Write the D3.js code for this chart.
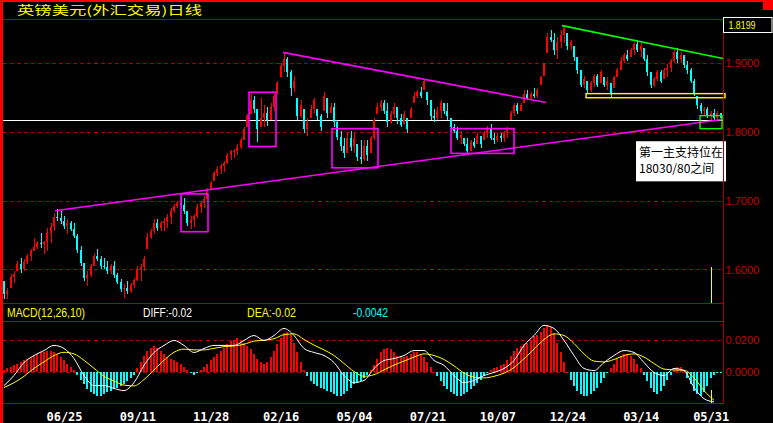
<!DOCTYPE html>
<html><head><meta charset="utf-8">
<script src="https://cdn.jsdelivr.net/npm/d3@7"></script>
<style>html,body{margin:0;padding:0;background:#000;overflow:hidden}</style>
</head><body>
<svg id="c" width="773" height="423"></svg>
<script>
// ---------------- data ----------------
const title = "英镑美元(外汇交易)日线";
const high = [1.583,1.573,1.594,1.598,1.612,1.617,1.615,1.623,1.630,1.646,
1.642,1.653,1.642,1.661,1.668,1.682,1.688,1.685,1.678,1.674,
1.671,1.668,1.652,1.634,1.609,1.598,1.608,1.624,1.630,1.620,
1.617,1.612,1.608,1.612,1.595,1.586,1.579,1.583,1.580,1.588,
1.605,1.608,1.620,1.653,1.659,1.674,1.674,1.671,1.675,1.681,
1.690,1.696,1.700,1.707,1.704,1.685,1.678,1.681,1.696,1.700,
1.707,1.719,1.729,1.744,1.750,1.753,1.758,1.770,1.774,1.776,
1.782,1.791,1.808,1.827,1.856,1.852,1.834,1.850,1.839,1.837,
1.842,1.856,1.875,1.900,1.915,1.909,1.890,1.882,1.849,1.846,
1.834,1.820,1.839,1.850,1.834,1.827,1.858,1.849,1.842,1.842,
1.817,1.802,1.792,1.798,1.801,1.798,1.783,1.788,1.788,1.788,
1.795,1.820,1.842,1.846,1.846,1.842,1.831,1.842,1.836,1.827,
1.831,1.821,1.836,1.858,1.861,1.865,1.878,1.858,1.846,1.834,
1.836,1.846,1.843,1.842,1.821,1.812,1.807,1.802,1.792,1.791,
1.788,1.792,1.798,1.795,1.802,1.809,1.812,1.798,1.798,1.799,
1.802,1.807,1.831,1.843,1.843,1.843,1.861,1.861,1.858,1.864,
1.864,1.882,1.901,1.944,1.948,1.944,1.938,1.948,1.955,1.944,
1.934,1.926,1.909,1.890,1.882,1.875,1.875,1.885,1.885,1.890,
1.880,1.880,1.871,1.882,1.894,1.909,1.915,1.919,1.923,1.931,
1.934,1.929,1.922,1.912,1.887,1.880,1.891,1.890,1.893,1.899,
1.907,1.919,1.922,1.916,1.912,1.904,1.894,1.878,1.853,1.842,
1.837,1.836,1.831,1.834,1.831,1.828];
const low = [1.557,1.557,1.573,1.580,1.598,1.595,1.598,1.608,1.612,1.627,
1.630,1.631,1.623,1.627,1.639,1.656,1.671,1.666,1.659,1.652,
1.656,1.646,1.624,1.605,1.583,1.576,1.589,1.605,1.612,1.601,
1.601,1.594,1.594,1.588,1.579,1.567,1.558,1.564,1.566,1.573,
1.583,1.583,1.598,1.630,1.645,1.652,1.656,1.656,1.656,1.661,
1.666,1.682,1.690,1.690,1.681,1.663,1.659,1.662,1.675,1.682,
1.690,1.703,1.715,1.729,1.736,1.739,1.742,1.754,1.760,1.763,
1.767,1.776,1.789,1.807,1.827,1.828,1.785,1.807,1.807,1.809,
1.817,1.831,1.856,1.880,1.887,1.880,1.853,1.858,1.817,1.821,
1.799,1.795,1.820,1.827,1.817,1.802,1.831,1.821,1.828,1.807,
1.788,1.773,1.763,1.769,1.772,1.770,1.758,1.754,1.758,1.758,
1.770,1.788,1.827,1.831,1.827,1.807,1.812,1.821,1.812,1.807,
1.812,1.799,1.821,1.842,1.850,1.849,1.861,1.839,1.817,1.814,
1.817,1.821,1.827,1.817,1.802,1.798,1.788,1.783,1.780,1.769,
1.773,1.777,1.783,1.777,1.788,1.792,1.788,1.783,1.785,1.785,
1.785,1.792,1.817,1.824,1.827,1.831,1.842,1.846,1.846,1.849,
1.850,1.868,1.882,1.915,1.931,1.912,1.907,1.922,1.929,1.919,
1.919,1.904,1.885,1.865,1.864,1.856,1.858,1.865,1.865,1.871,
1.865,1.861,1.850,1.864,1.880,1.890,1.900,1.904,1.909,1.912,
1.916,1.909,1.903,1.882,1.864,1.865,1.875,1.872,1.878,1.880,
1.887,1.901,1.901,1.900,1.893,1.885,1.871,1.853,1.834,1.827,
1.823,1.821,1.817,1.818,1.817,1.818];
const close = [1.564,1.569,1.589,1.594,1.608,1.601,1.611,1.620,1.627,1.633,
1.639,1.637,1.640,1.653,1.662,1.677,1.675,1.671,1.663,1.668,
1.659,1.649,1.628,1.609,1.588,1.592,1.605,1.620,1.615,1.605,
1.604,1.598,1.605,1.592,1.582,1.572,1.573,1.569,1.577,1.585,
1.601,1.604,1.615,1.647,1.656,1.668,1.661,1.668,1.671,1.677,
1.685,1.693,1.697,1.694,1.685,1.668,1.672,1.678,1.691,1.697,
1.703,1.716,1.726,1.741,1.747,1.750,1.755,1.766,1.772,1.773,
1.779,1.788,1.804,1.823,1.846,1.834,1.805,1.820,1.828,1.817,
1.837,1.852,1.872,1.896,1.907,1.887,1.864,1.875,1.824,1.840,
1.805,1.814,1.834,1.846,1.823,1.808,1.852,1.828,1.837,1.814,
1.793,1.780,1.769,1.791,1.779,1.792,1.764,1.761,1.780,1.766,
1.791,1.817,1.837,1.842,1.831,1.814,1.827,1.837,1.820,1.811,
1.827,1.805,1.833,1.853,1.858,1.853,1.874,1.846,1.824,1.820,
1.831,1.842,1.831,1.823,1.807,1.801,1.792,1.796,1.783,1.773,
1.785,1.780,1.795,1.782,1.799,1.805,1.792,1.788,1.795,1.791,
1.799,1.805,1.828,1.839,1.831,1.840,1.856,1.850,1.855,1.852,
1.861,1.880,1.899,1.939,1.934,1.919,1.931,1.941,1.951,1.926,
1.931,1.909,1.890,1.869,1.878,1.861,1.871,1.881,1.869,1.887,
1.868,1.875,1.855,1.880,1.891,1.904,1.912,1.907,1.920,1.928,
1.919,1.925,1.907,1.887,1.868,1.877,1.888,1.875,1.890,1.894,
1.904,1.916,1.907,1.912,1.897,1.890,1.875,1.856,1.839,1.830,
1.834,1.824,1.828,1.821,1.828,1.8199];
const dateTicks = ["06/25","09/11","11/28","02/16","05/04","07/21","10/07","12/24","03/14","05/31"];
const dateTickIdx = [18,40,62,83,105,127,148,169,191,212];
const priceTicks = [1.6,1.7,1.8,1.9];
const macdTicks = [0.0,0.02];
const lastPrice = 1.8199;
const refLine = 1.8174;
const cursorIdx = 212;
// MACD(12,26,10): DIFF and DEA read every third bar
const diff = [-0.0088,-0.0025,0.0056,0.0100,0.0131,0.0163,0.0144,0.0081,-0.0025,-0.0088,
-0.0088,-0.0106,-0.0119,-0.0069,0.0038,0.0119,0.0163,0.0194,0.0163,0.0119,
0.0144,0.0163,0.0163,0.0163,0.0194,0.0225,0.0194,0.0225,0.0269,0.0225,
0.0144,0.0119,0.0100,0.0056,-0.0025,-0.0069,-0.0056,0.0019,0.0069,0.0081,
0.0100,0.0131,0.0131,0.0069,0.0038,-0.0025,-0.0069,-0.0056,-0.0025,-0.0006,
0.0019,0.0069,0.0163,0.0225,0.0288,0.0269,0.0194,0.0100,0.0019,0.0006,
0.0056,0.0100,0.0131,0.0119,0.0056,-0.0006,-0.0025,0.0019,0.0006,-0.0100,
-0.0170,-0.0190];
const dea = [-0.0100,-0.0070,-0.0030,0.0020,0.0060,0.0100,0.0120,0.0110,0.0070,0.0020,
-0.0030,-0.0060,-0.0085,-0.0090,-0.0050,0.0010,0.0070,0.0120,0.0140,0.0135,
0.0135,0.0145,0.0155,0.0160,0.0170,0.0190,0.0195,0.0205,0.0230,0.0235,
0.0200,0.0165,0.0135,0.0100,0.0050,0.0000,-0.0030,-0.0020,0.0010,0.0040,
0.0065,0.0090,0.0110,0.0100,0.0075,0.0035,-0.0010,-0.0035,-0.0040,-0.0030,
-0.0010,0.0025,0.0080,0.0140,0.0200,0.0235,0.0225,0.0175,0.0110,0.0065,
0.0060,0.0075,0.0100,0.0110,0.0090,0.0050,0.0015,0.0010,0.0008,-0.0040,
-0.0120,-0.0180];
// MACD histogram, one value per bar
const macdBar = [0.001,0.002,0.003,0.004,
0.005,0.006,0.007,0.008,0.009,0.010,0.011,
0.012,0.012,0.013,0.013,0.012,0.011,
0.009,0.007,0.005,0.003,0.001,
-0.002,-0.005,-0.008,-0.011,-0.013,-0.014,
-0.015,-0.015,-0.014,-0.013,-0.012,-0.011,
-0.010,-0.009,-0.008,-0.006,-0.004,-0.002,
0.002,0.006,0.010,0.013,0.015,0.016,0.015,
0.013,0.011,0.009,0.008,0.007,0.006,0.005,
0.003,0.001,-0.001,-0.002,-0.001,0.001,
0.003,0.005,0.007,0.009,0.011,0.013,
0.015,0.017,0.019,0.020,0.021,0.020,0.018,
0.016,0.014,0.011,0.008,0.006,0.005,0.006,
0.009,0.013,0.017,0.021,0.024,0.025,0.023,
0.018,0.012,0.006,0.001,
-0.003,-0.006,-0.008,-0.009,-0.010,-0.011,
-0.012,-0.013,-0.014,-0.015,-0.015,-0.014,-0.012,
-0.010,-0.008,-0.007,-0.006,-0.004,-0.002,0.001,
0.004,0.008,0.012,0.014,0.015,0.014,0.012,
0.010,0.009,0.009,0.010,0.011,0.012,0.012,
0.011,0.009,0.006,0.003,0.000,
-0.003,-0.006,-0.009,-0.011,-0.013,-0.014,-0.015,
-0.015,-0.014,-0.013,-0.011,-0.009,-0.007,-0.005,
-0.003,-0.001,0.001,0.002,0.003,0.004,
0.005,0.007,0.010,0.013,0.015,0.016,0.017,
0.018,0.020,0.022,0.023,0.025,0.027,0.029,
0.028,0.024,0.018,0.012,0.006,
0.000,-0.005,-0.009,-0.012,-0.014,-0.015,-0.015,
-0.014,-0.012,-0.010,-0.007,-0.004,-0.001,
0.002,0.005,0.008,0.010,0.011,0.011,
0.010,0.008,0.005,0.002,-0.002,
-0.006,-0.010,-0.013,-0.014,-0.012,-0.009,-0.005,
-0.002,0.001,0.003,0.003,0.001,
-0.004,-0.008,-0.012,-0.014,-0.015,-0.013,-0.009,-0.0042,-0.002,-0.001,-0.001];
const macdIdx = d3.range(0, 216, 3);
// annotations (bar index, price)
const supportLine = [[15.3,1.6855],[215.4,1.8183]];
const resistLine = [[83.7,1.916],[162.6,1.843]];
const greenLine = [[167.4,1.955],[215.7,1.907]];
const magentaBoxes = [[53.1,61.2,1.710,1.655],[73.5,81.6,1.858,1.779],[98.4,112.2,1.805,1.748],[134.1,153.0,1.805,1.769]];
const yellowBox = [174.6,216.3,1.856,1.850];
const greenBox = [208.8,215.4,1.824,1.805];
const noteLines = ["第一主支持位在","18030/80之间"];

// ---------------- layout ----------------
const svg = d3.select("#c");
svg.append("rect").attr("width",773).attr("height",423).attr("fill","#000");
const L=3, R=723.5, PT=19.5, PB=303.5, MT=321.5, MB=403.5;
const N = close.length;
const x = d3.scaleLinear().domain([0,N-1]).range([4,720.7]);
const y = d3.scaleLinear().domain([1.5505,1.9639]).range([PB,PT]);
const ym = d3.scaleLinear().domain([-0.02,0.03125]).range([MB,MT]);
const DR="#a80000", TR="#c80000";
const RED="#ff0000", CYAN="#00ffff";

// gridlines
const grid = svg.append("g").attr("shape-rendering","crispEdges");
priceTicks.forEach(p=>grid.append("line").attr("x1",L).attr("x2",R)
  .attr("y1",Math.round(y(p))+0.5).attr("y2",Math.round(y(p))+0.5)
  .attr("stroke",DR).attr("stroke-dasharray","4,3"));
macdTicks.forEach(v=>grid.append("line").attr("x1",L).attr("x2",R)
  .attr("y1",Math.round(ym(v))+0.5).attr("y2",Math.round(ym(v))+0.5)
  .attr("stroke",DR).attr("stroke-dasharray","4,3"));

// white reference line
svg.append("line").attr("x1",L).attr("x2",R).attr("y1",Math.round(y(refLine))+0.5).attr("y2",Math.round(y(refLine))+0.5)
  .attr("stroke","#fff").attr("shape-rendering","crispEdges");

// candles
const cg = svg.append("g").attr("shape-rendering","crispEdges");
const openOf = i => Math.min(high[i], Math.max(low[i], i ? close[i-1] : high[0]));
const cand = cg.selectAll("g").data(d3.range(N)).join("g");
cand.append("rect")
  .attr("x",i=>Math.round(x(i))).attr("width",1)
  .attr("y",i=>y(high[i])).attr("height",i=>Math.max(1,y(low[i])-y(high[i])))
  .attr("fill",i=>close[i]>=openOf(i)?RED:CYAN);
cand.append("rect")
  .attr("x",i=>Math.round(x(i))-1).attr("width",2)
  .attr("y",i=>y(Math.max(openOf(i),close[i])))
  .attr("height",i=>Math.max(1,Math.abs(y(openOf(i))-y(close[i]))))
  .attr("fill",i=>close[i]>=openOf(i)?RED:CYAN);

// annotations
const line = d3.line().x(d=>x(d[0])).y(d=>y(d[1]));
svg.append("path").attr("d",line(supportLine)).attr("stroke","#ff00ff").attr("stroke-width",1.6).attr("fill","none");
svg.append("path").attr("d",line(resistLine)).attr("stroke","#ff00ff").attr("stroke-width",1.6).attr("fill","none");
svg.append("path").attr("d",line(greenLine)).attr("stroke","#00ff00").attr("stroke-width",1.6).attr("fill","none");
const boxAttr = (sel,b,col,w)=>sel.append("rect").attr("x",x(b[0])).attr("width",x(b[1])-x(b[0]))
  .attr("y",y(b[2])).attr("height",y(b[3])-y(b[2])).attr("fill","none").attr("stroke",col).attr("stroke-width",w);
magentaBoxes.forEach(b=>boxAttr(svg,b,"#ff00ff",1.6));
boxAttr(svg,yellowBox,"#ffff00",1.4);
boxAttr(svg,greenBox,"#00ff00",1.4);

// note box
const nb = svg.append("g");
nb.append("rect").attr("x",x(189.6)).attr("y",y(1.7867)).attr("width",x(216.6)-x(189.6)).attr("height",y(1.7283)-y(1.7867)).attr("fill","#fff");
noteLines.forEach((t,k)=>nb.append("text").attr("x",x(189.6)+3).attr("y",y(1.7867)+16+k*15.5)
  .attr("font-family","'Noto Sans CJK SC','Noto Sans',sans-serif").attr("font-size",12).attr("fill","#000").text(t));

// MACD histogram and lines
const mg = svg.append("g").attr("shape-rendering","crispEdges");
mg.selectAll("rect").data(macdBar).join("rect")
  .attr("x",(v,i)=>Math.round(x(i))-1).attr("width",2)
  .attr("y",v=>v>=0?ym(v):ym(0)).attr("height",v=>Math.max(1,Math.abs(ym(v)-ym(0))))
  .attr("fill",v=>v>=0?RED:CYAN);
const mline = arr => d3.line().x((v,k)=>x(macdIdx[k])).y(v=>ym(v)).curve(d3.curveMonotoneX)(arr);
svg.append("path").attr("d",mline(dea)).attr("stroke","#ffff00").attr("fill","none").attr("stroke-width",1);
svg.append("path").attr("d",mline(diff)).attr("stroke","#ffffff").attr("fill","none").attr("stroke-width",1);

// cursor marks
const cx = Math.round(x(cursorIdx))+0.5;
svg.append("line").attr("x1",cx).attr("x2",cx).attr("y1",267).attr("y2",PB).attr("stroke","#ffff00").attr("shape-rendering","crispEdges");
svg.append("line").attr("x1",cx).attr("x2",cx).attr("y1",390).attr("y2",MB).attr("stroke","#ffff00").attr("shape-rendering","crispEdges");

// frame
const fr = svg.append("g").attr("shape-rendering","crispEdges");
[PT,PB,MT,MB].forEach(v=>fr.append("line").attr("x1",L).attr("x2",R).attr("y1",v).attr("y2",v).attr("stroke",DR));
fr.append("line").attr("x1",R).attr("x2",R).attr("y1",PT).attr("y2",MB).attr("stroke",DR);
fr.append("rect").attr("x",0).attr("y",0).attr("width",3).attr("height",423).attr("fill","#ff0000");
fr.append("rect").attr("x",0).attr("y",0).attr("width",773).attr("height",2).attr("fill","#ff0000");
fr.append("rect").attr("x",763).attr("y",0).attr("width",10).attr("height",10).attr("fill","#ff0000");

// title
svg.append("text").attr("x",17).attr("y",14.5).attr("fill","#ffff00")
  .attr("font-family","'Noto Sans CJK SC',sans-serif").attr("font-size",12)
  .attr("textLength",185).attr("lengthAdjust","spacingAndGlyphs").text(title);

// axes
const fmt = d3.format(".4f");
const pa = svg.append("g").attr("transform",`translate(${R},0)`)
  .call(d3.axisRight(y).tickValues(priceTicks).tickSize(0).tickPadding(2).tickFormat(fmt));
const ma = svg.append("g").attr("transform",`translate(${R},0)`)
  .call(d3.axisRight(ym).tickValues(macdTicks).tickSize(0).tickPadding(2).tickFormat(fmt));
[pa,ma].forEach(a=>{a.select(".domain").remove();
  a.selectAll("text").attr("fill",TR).attr("font-family","'Liberation Sans',Arial,sans-serif").attr("font-size",11);});
const xa = svg.append("g").attr("transform",`translate(0,${MB})`)
  .call(d3.axisBottom(x).tickValues(dateTickIdx).tickSize(0).tickFormat((d,k)=>dateTicks[k]));
xa.select(".domain").remove();
xa.selectAll("text").attr("y",17).attr("dy",0).attr("fill","#fff")
  .attr("font-family","'DejaVu Sans Mono',monospace").attr("font-weight","bold").attr("font-size",12);

// last price box
svg.append("rect").attr("x",R).attr("y",17.5).attr("width",48.5).attr("height",15).attr("fill","#000").attr("stroke","#fff");
svg.append("text").attr("x",728.5).attr("y",29).attr("fill","#ffff00")
  .attr("font-family","'Liberation Sans',Arial,sans-serif").attr("font-size",11)
  .attr("textLength",27).attr("lengthAdjust","spacingAndGlyphs").text(lastPrice.toFixed(4));

// MACD header
const hdr = [["MACD(12,26,10)",7,"#ffff00",78],["DIFF:"+diff[diff.length-1].toFixed(2),143,"#ffffff",49],
  ["DEA:"+dea[dea.length-1].toFixed(2),247,"#ffff00",49],[macdBar[cursorIdx].toFixed(4),353,"#00ffff",35]];
hdr.forEach(h=>svg.append("text").attr("x",h[1]).attr("y",317).attr("fill",h[2])
  .attr("font-family","'Liberation Sans',Arial,sans-serif").attr("font-size",12)
  .attr("textLength",h[3]).attr("lengthAdjust","spacingAndGlyphs").text(h[0]));
</script>
</body></html>
